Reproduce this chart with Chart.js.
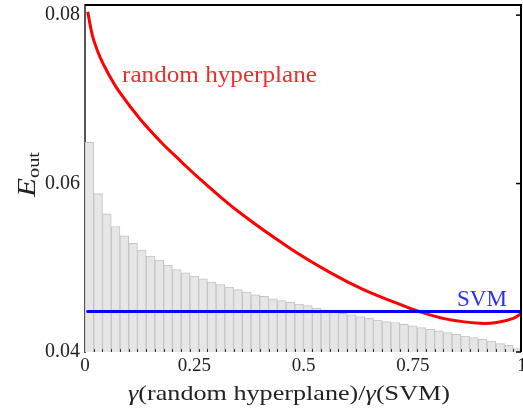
<!DOCTYPE html>
<html>
<head>
<meta charset="utf-8">
<script src="https://cdn.jsdelivr.net/npm/chart.js@4/dist/chart.umd.min.js"></script>
<style>
html,body{margin:0;padding:0;background:#fff;}
canvas{display:block;}
</style>
</head>
<body>
<canvas id="c" width="523" height="409"></canvas>
<script>
// ---- data ----
const binCenters = [0.01,0.03,0.05,0.07,0.09,0.11,0.13,0.15,0.17,0.19,
  0.21,0.23,0.25,0.27,0.29,0.31,0.33,0.35,0.37,0.39,
  0.41,0.43,0.45,0.47,0.49,0.51,0.53,0.55,0.57,0.59,
  0.61,0.63,0.65,0.67,0.69,0.71,0.73,0.75,0.77,0.79,
  0.81,0.83,0.85,0.87,0.89,0.91,0.93,0.95,0.97,0.99];
const barValues = [0.0649,0.0588,0.0564,0.0549,0.0538,0.0529,0.0521,0.0514,0.0509,0.0503,
  0.0498,0.0494,0.0490,0.0487,0.0483,0.0480,0.0477,0.0474,0.0471,0.0468,
  0.0466,0.0463,0.0461,0.0459,0.0457,0.0455,0.0452,0.0450,0.0448,0.0446,
  0.0444,0.0442,0.0440,0.0438,0.0436,0.0435,0.0433,0.0431,0.0429,0.0427,
  0.0425,0.0423,0.0421,0.0419,0.0417,0.0415,0.0413,0.0410,0.0408,0.0404];
const randomX = [0.0064,0.0126,0.0201,0.0354,0.0583,0.0811,0.1269,0.1726,0.2183,0.264,
  0.3554,0.4697,0.5623,0.6373,0.7136,0.7593,0.8279,0.904,0.9421,0.9801,0.9993];
const randomY = [0.0804,0.0786,0.0770,0.0749,0.0726,0.0707,0.0676,0.0650,0.0627,0.0605,
  0.0565,0.0523,0.0494,0.0474,0.0458,0.0449,0.0439,0.0434,0.0435,0.0440,0.0446];
const svmX = [0.006, 1.0];
const svmY = [0.0448, 0.0448];
const xTickValues = [0, 0.25, 0.5, 0.75, 1];
const xTickLabels = ['0', '0.25', '0.5', '0.75', '1'];
const yTickValues = [0.04, 0.06, 0.08];
const yTickLabels = ['0.04', '0.06', '0.08'];
const labelRandom = 'random hyperplane';
const labelSVM = 'SVM';

const SERIF = '"Liberation Serif", "Times New Roman", serif';

// draw a run of text pieces, stretched horizontally to a target width
function drawFit(ctx, parts, x, y, target, align) {
  let natural = 0;
  parts.forEach(p => { ctx.font = p.f; p.w = ctx.measureText(p.t).width + (p.dx || 0); natural += p.w; });
  const k = target / natural;
  let left = align === 'right' ? x - target : (align === 'center' ? x - target / 2 : x);
  ctx.save();
  ctx.translate(left, y);
  ctx.scale(k, 1);
  let cx = 0;
  parts.forEach(p => {
    ctx.font = p.f;
    ctx.fillText(p.t, cx + (p.dx || 0), p.dy || 0);
    cx += p.w;
  });
  ctx.restore();
}

const decor = {
  id: 'decor',
  afterDatasetsDraw(chart) {
    const ctx = chart.ctx;
    const a = chart.chartArea;
    const xs = chart.scales.x, ys = chart.scales.y;
    ctx.save();
    // minor marks at bin edges
    ctx.strokeStyle = '#333';
    ctx.lineWidth = 1;
    for (let i = 0; i < binCenters.length - 1; i++) {
      const e = (binCenters[i] + binCenters[i + 1]) / 2;
      const px = Math.round(xs.getPixelForValue(e)) + 0.5;
      ctx.beginPath(); ctx.moveTo(px, a.bottom); ctx.lineTo(px, a.bottom - 3); ctx.stroke();
    }
    // top & right frame
    ctx.strokeStyle = '#000';
    ctx.lineWidth = 2;
    ctx.beginPath();
    ctx.moveTo(a.left, a.top);
    ctx.lineTo(a.right - 1, a.top);
    ctx.lineTo(a.right - 1, a.bottom);
    ctx.stroke();
    // right inner ticks
    ctx.lineWidth = 1.5;
    yTickValues.forEach(v => {
      const py = ys.getPixelForValue(v);
      ctx.beginPath(); ctx.moveTo(a.right - 1, py); ctx.lineTo(a.right - 6, py); ctx.stroke();
    });
    // annotations
    ctx.textBaseline = 'alphabetic';
    ctx.textAlign = 'left';
    ctx.fillStyle = 'rgb(240,45,45)';
    drawFit(ctx, [{t: labelRandom, f: '23px ' + SERIF}], 122, 82, 195, 'left');
    ctx.fillStyle = 'rgb(45,45,245)';
    drawFit(ctx, [{t: labelSVM, f: '23px ' + SERIF}], 507, 306, 50, 'right');
    // x title
    ctx.fillStyle = '#222';
    drawFit(ctx, [
      {t: 'γ', f: 'italic 22px ' + SERIF},
      {t: '(random hyperplane)/', f: '22px ' + SERIF},
      {t: 'γ', f: 'italic 22px ' + SERIF},
      {t: '(SVM)', f: '22px ' + SERIF}
    ], 289, 400, 322, 'center');
    // y title: E_out rotated
    ctx.translate(35, 197);
    ctx.rotate(-Math.PI / 2);
    drawFit(ctx, [
      {t: 'E', f: 'italic 26px ' + SERIF},
      {t: 'out', f: '17px ' + SERIF, dy: 4, dx: 0}
    ], 0, 0, 45, 'left');
    ctx.restore();
  }
};

new Chart(document.getElementById('c'), {
  type: 'bar',
  data: {
    datasets: [
      {
        type: 'line',
        data: svmX.map((x, i) => ({x, y: svmY[i]})),
        borderColor: '#0000ff',
        borderWidth: 3,
        borderCapStyle: 'round',
        pointRadius: 0,
        order: 1
      },
      {
        type: 'line',
        data: randomX.map((x, i) => ({x, y: randomY[i]})),
        borderColor: '#ff0000',
        borderWidth: 3,
        pointRadius: 0,
        tension: 0.4,
        order: 2
      },
      {
        type: 'bar',
        data: binCenters.map((x, i) => ({x, y: barValues[i]})),
        backgroundColor: '#e6e6e6',
        borderColor: '#c4c4c4',
        borderWidth: 1,
        barPercentage: 1,
        categoryPercentage: 1,
        order: 3
      }
    ]
  },
  options: {
    responsive: false,
    animation: false,
    events: [],
    layout: {padding: {top: 5, right: 1, left: 0, bottom: 0}},
    plugins: {legend: {display: false}, tooltip: {enabled: false}},
    scales: {
      x: {
        type: 'linear',
        min: 0, max: 1,
        offset: false,
        grid: {display: false, drawTicks: false},
        border: {display: false},
        afterBuildTicks(s) { s.ticks = xTickValues.map(v => ({value: v})); },
        afterFit(s) { s.height = 57; s.paddingLeft = 0; s.paddingRight = 0; },
        ticks: {
          padding: 3,
          color: '#222',
          font: {family: SERIF, size: 19},
          maxRotation: 0,
          callback: (v) => xTickLabels[xTickValues.indexOf(v)]
        }
      },
      y: {
        min: 0.04, max: 0.0812,
        grid: {display: false, drawTicks: false},
        border: {display: true, color: '#555', width: 2},
        afterBuildTicks(s) { s.ticks = yTickValues.map(v => ({value: v})); },
        afterFit(s) { s.width = 85; s.paddingTop = 0; s.paddingBottom = 0; },
        ticks: {
          padding: 5,
          color: '#222',
          font: {family: SERIF, size: 20},
          callback: (v) => yTickLabels[yTickValues.indexOf(v)]
        }
      }
    }
  },
  plugins: [decor]
});
</script>
</body>
</html>
